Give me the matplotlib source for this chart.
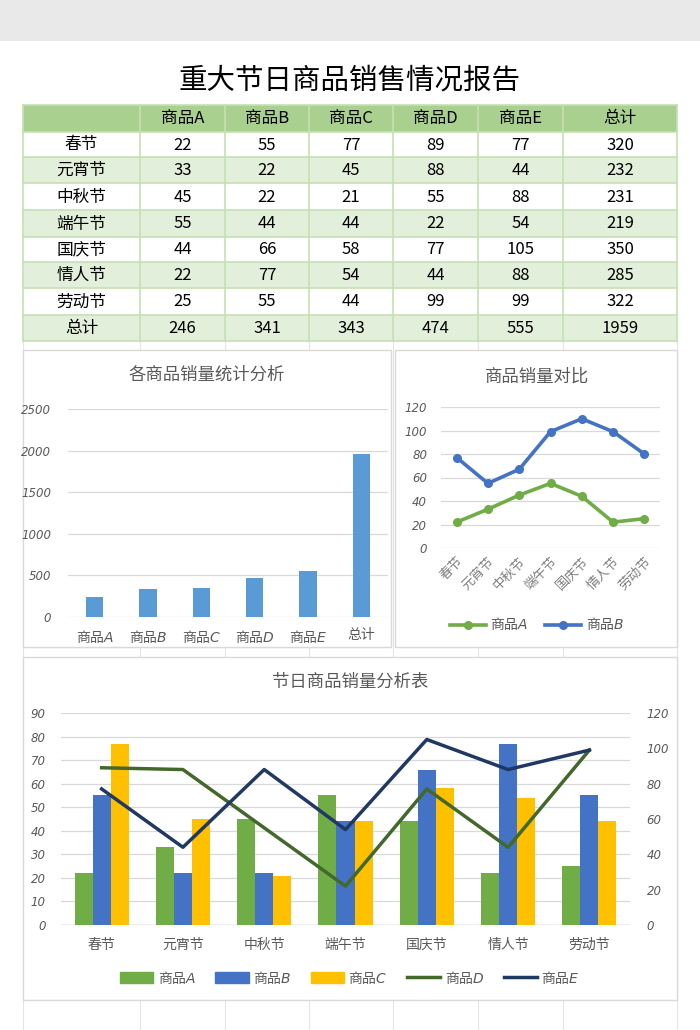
import matplotlib
matplotlib.use("Agg")
import matplotlib.pyplot as plt
from matplotlib.patches import Rectangle, Patch
from matplotlib.lines import Line2D
from matplotlib.font_manager import FontProperties
import numpy as np

plt.rcParams['font.family'] = ['Noto Sans CJK SC', 'DejaVu Sans']
plt.rcParams['mathtext.fontset'] = 'custom'
plt.rcParams['mathtext.it'] = 'DejaVu Sans:italic'
plt.rcParams['mathtext.rm'] = 'Noto Sans CJK SC'

# ---------------- data ----------------
title = "重大节日商品销售情况报告"
festivals = ["春节", "元宵节", "中秋节", "端午节", "国庆节", "情人节", "劳动节"]
products = ["商品A", "商品B", "商品C", "商品D", "商品E"]
prod_letters = ["A", "B", "C", "D", "E"]
sales_A = [22, 33, 45, 55, 44, 22, 25]
sales_B = [55, 22, 22, 44, 66, 77, 55]
sales_C = [77, 45, 21, 44, 58, 54, 44]
sales_D = [89, 88, 55, 22, 77, 44, 99]
sales_E = [77, 44, 88, 54, 105, 88, 99]
row_totals = [320, 232, 231, 219, 350, 285, 322]
col_totals = [246, 341, 343, 474, 555]
grand_total = 1959
total_label = "总计"

chart1_title = "各商品销量统计分析"
chart2_title = "商品销量对比"
chart3_title = "节日商品销量分析表"

# ---------------- figure ----------------
W, H = 700, 1030
fig = plt.figure(figsize=(W / 100, H / 100), dpi=100)
fig.patch.set_facecolor("white")


def px(x0, y0, x1, y1):
    return [x0 / W, 1 - y1 / H, (x1 - x0) / W, (y1 - y0) / H]


bg = fig.add_axes([0, 0, 1, 1])
bg.set_xlim(0, W)
bg.set_ylim(H, 0)
bg.axis("off")

# top grey band
bg.add_patch(Rectangle((0, 0), W, 41, facecolor="#e9e9e9", edgecolor="none"))
bg.text(350, 81, title, fontsize=20.5, ha="center", va="center", color="black")

# faint spreadsheet grid below table
col_edges = [23, 140, 225, 309, 393, 478, 563, 677]
row_edges = [105, 132, 157, 183, 210, 237, 262, 288, 315, 341]
for x in col_edges:
    bg.plot([x, x], [341, H], color="#e4e4e4", lw=0.8, zorder=0.5)

# ---------------- table ----------------
header_fill = "#a9d08e"
light_fill = "#e2efda"
line_col = "#c6e0b4"
table_rows = []
for i, f in enumerate(festivals):
    vals = [sales_A[i], sales_B[i], sales_C[i], sales_D[i], sales_E[i], row_totals[i]]
    table_rows.append([f] + [str(v) for v in vals])
table_rows.append([total_label] + [str(v) for v in col_totals] + [str(grand_total)])
header = [""] + products + [total_label]

all_rows = [header] + table_rows
for r, row in enumerate(all_rows):
    y0, y1 = row_edges[r], row_edges[r + 1]
    if r == 0:
        fc = header_fill
    elif r % 2 == 0:
        fc = light_fill
    else:
        fc = "white"
    bg.add_patch(Rectangle((col_edges[0], y0), col_edges[-1] - col_edges[0], y1 - y0,
                           facecolor=fc, edgecolor="none", zorder=1))
    for c, txt in enumerate(row):
        xc = (col_edges[c] + col_edges[c + 1]) / 2
        bg.text(xc, (y0 + y1) / 2 + 0.5, txt, fontsize=12, ha="center", va="center",
                color="black", zorder=3)
for y in row_edges:
    bg.plot([col_edges[0], col_edges[-1]], [y, y], color=line_col, lw=1.2, zorder=2)
for x in col_edges:
    bg.plot([x, x], [row_edges[0], row_edges[-1]], color=line_col, lw=1.2, zorder=2)

# chart frames
frame_col = "#d9d9d9"
for (x0, y0, x1, y1) in [(23, 350, 391, 647), (395, 350, 677, 647), (23, 657, 677, 1000)]:
    bg.add_patch(Rectangle((x0, y0), x1 - x0, y1 - y0, facecolor="white",
                           edgecolor=frame_col, lw=1.0, zorder=4))

tick_col = "#595959"
grid_col = "#d9d9d9"


def it_label(letter):
    return "商品$\\mathit{" + letter + "}$"


def style_axes(ax):
    for s in ax.spines.values():
        s.set_visible(False)
    ax.set_facecolor("none")
    ax.tick_params(length=0)
    ax.yaxis.grid(True, color=grid_col, lw=0.9)
    ax.set_axisbelow(True)


def italic_yticks(ax):
    for t in ax.get_yticklabels():
        t.set_fontproperties(FontProperties(family="DejaVu Sans", style="italic", size=8.5))
        t.set_color(tick_col)


# ---------------- chart 1 : bar ----------------
bg.text(207, 375, chart1_title, fontsize=12.5, ha="center", va="center", color="#595959", zorder=5)
ax1 = fig.add_axes(px(68, 409, 388, 617))
style_axes(ax1)
bar_labels = [it_label(l) for l in prod_letters] + [total_label]
bar_vals = col_totals + [grand_total]
xpos = np.arange(len(bar_vals))
ax1.bar(xpos, bar_vals, width=0.33, color="#5b9bd5", zorder=3)
ax1.set_xlim(-0.5, len(bar_vals) - 0.5)
ax1.set_ylim(0, 2500)
ax1.set_yticks(np.arange(0, 2501, 500))
ax1.set_xticks(xpos)
ax1.set_xticklabels(bar_labels, fontsize=10, color=tick_col)
ax1.tick_params(axis="x", pad=8)
ax1.tick_params(axis="y", pad=12)
italic_yticks(ax1)

# ---------------- chart 2 : stacked line ----------------
bg.text(537, 377, chart2_title, fontsize=12.5, ha="center", va="center", color="#595959", zorder=5)
ax2 = fig.add_axes(px(441, 407, 660, 548))
style_axes(ax2)
xf = np.arange(len(festivals))
stack_A = np.array(sales_A)
stack_B = stack_A + np.array(sales_B)
ax2.plot(xf, stack_A, color="#70ad47", lw=2.6, marker="o", ms=5.5, zorder=3)
ax2.plot(xf, stack_B, color="#4472c4", lw=2.6, marker="o", ms=5.5, zorder=3)
ax2.set_xlim(-0.5, len(festivals) - 0.5)
ax2.set_ylim(0, 120)
ax2.set_yticks(np.arange(0, 121, 20))
ax2.set_xticks(xf)
ax2.set_xticklabels(festivals, rotation=45, ha="right", rotation_mode="anchor",
                    fontsize=9.5, color="#7f7f7f")
ax2.tick_params(axis="x", pad=5)
ax2.tick_params(axis="y", pad=10)
italic_yticks(ax2)
h2 = [Line2D([], [], color="#70ad47", lw=2.6, marker="o", ms=5.5),
      Line2D([], [], color="#4472c4", lw=2.6, marker="o", ms=5.5)]
fig.legend(h2, [it_label("A"), it_label("B")], loc="center",
           bbox_to_anchor=(537 / W, 1 - 624 / H), ncol=2, frameon=False,
           fontsize=10, handlelength=2.6, columnspacing=1.2, handletextpad=0.3,
           labelcolor=tick_col)

# ---------------- chart 3 : combo ----------------
bg.text(350, 682, chart3_title, fontsize=12.5, ha="center", va="center", color="#595959", zorder=5)
ax3 = fig.add_axes(px(61, 713, 630, 925))
style_axes(ax3)
bw = 0.222
bar_cols = ["#70ad47", "#4472c4", "#ffc000"]
for k, (vals, col) in enumerate(zip([sales_A, sales_B, sales_C], bar_cols)):
    ax3.bar(xf + (k - 1) * bw, vals, width=bw, color=col, zorder=3)
ax3.set_xlim(-0.5, len(festivals) - 0.5)
ax3.set_ylim(0, 90)
ax3.set_yticks(np.arange(0, 91, 10))
ax3.set_xticks(xf)
ax3.set_xticklabels(festivals, fontsize=10, color=tick_col)
ax3.tick_params(axis="x", pad=9)
ax3.tick_params(axis="y", pad=11)
italic_yticks(ax3)
ax3.axhline(0, color="#bfbfbf", lw=1, zorder=2)

ax3b = ax3.twinx()
for s in ax3b.spines.values():
    s.set_visible(False)
ax3b.set_facecolor("none")
ax3b.tick_params(length=0, pad=12)
line_cols = ["#43682b", "#203864"]
ax3b.plot(xf, sales_D, color=line_cols[0], lw=2.5, zorder=4)
ax3b.plot(xf, sales_E, color=line_cols[1], lw=2.5, zorder=4)
ax3b.set_ylim(0, 120)
ax3b.set_yticks(np.arange(0, 121, 20))
italic_yticks(ax3b)

h3 = [Patch(color=c) for c in bar_cols] + [Line2D([], [], color=c, lw=2.5) for c in line_cols]
fig.legend(h3, [it_label(l) for l in prod_letters], loc="center",
           bbox_to_anchor=(350 / W, 1 - 977 / H), ncol=5, frameon=False,
           fontsize=10, handlelength=2.4, handleheight=0.8, columnspacing=1.4,
           handletextpad=0.3, labelcolor=tick_col)

fig.savefig("out.png", dpi=100)
